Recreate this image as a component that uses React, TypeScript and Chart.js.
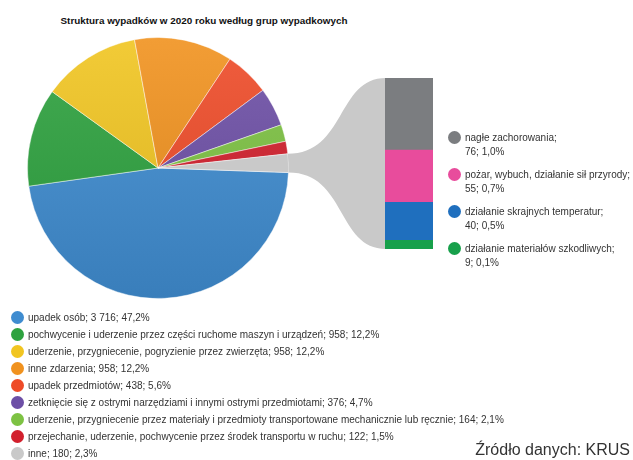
import React, { useEffect, useRef } from "react";
import { Chart, registerables } from "chart.js";
Chart.register(...registerables);

const title = "Struktura wypadków w 2020 roku według grup wypadkowych";
const source = "Źródło danych: KRUS";

const pieLabels = [
  "upadek osób",
  "pochwycenie i uderzenie przez części ruchome maszyn i urządzeń",
  "uderzenie, przygniecenie, pogryzienie przez zwierzęta",
  "inne zdarzenia",
  "upadek przedmiotów",
  "zetknięcie się z ostrymi narzędziami i innymi ostrymi przedmiotami",
  "uderzenie, przygniecenie przez materiały i przedmioty transportowane mechanicznie lub ręcznie",
  "przejechanie, uderzenie, pochwycenie przez środek transportu w ruchu",
  "inne",
];
const pieValues = [3716, 958, 958, 958, 438, 376, 164, 122, 180];
const pieValueText = ["3 716", "958", "958", "958", "438", "376", "164", "122", "180"];
const piePercents = ["47,2%", "12,2%", "12,2%", "12,2%", "5,6%", "4,7%", "2,1%", "1,5%", "2,3%"];
const pieColors = ["#3f8cd0", "#2ea23f", "#f1c521", "#f0921f", "#ee4b28", "#6d4fa6", "#7dc243", "#d2202d", "#c9c9c9"];

const barLabels = [
  "nagłe zachorowania",
  "pożar, wybuch, działanie sił przyrody",
  "działanie skrajnych temperatur",
  "działanie materiałów szkodliwych",
];
const barValues = [76, 55, 40, 9];
const barPercents = ["1,0%", "0,7%", "0,5%", "0,1%"];
const barColors = ["#7b7d80", "#e84c9c", "#1f6fbe", "#17a04b"];

const W = 633;
const H = 460;
const PIE_LEFT = 27;
const PIE_TOP = 37;
const PIE_SIZE = 262;
const connectorColor = "#c9c9c9";
const textFont = "'Liberation Sans', Arial, sans-serif";

function shade(hex: string, amt: number) {
  const n = parseInt(hex.slice(1), 16);
  const f = (c: number) => Math.max(0, Math.min(255, Math.round(amt > 0 ? c + (255 - c) * amt : c * (1 + amt))));
  const r = f((n >> 16) & 255);
  const g = f((n >> 8) & 255);
  const b = f(n & 255);
  return `rgb(${r},${g},${b})`;
}

export default function App() {
  const pieRef = useRef<HTMLCanvasElement | null>(null);
  const barRef = useRef<HTMLCanvasElement | null>(null);

  useEffect(() => {
    document.body.style.margin = "0";
    const pie = new Chart(pieRef.current!, {
      type: "pie",
      data: {
        labels: pieLabels,
        datasets: [
          {
            data: pieValues,
            backgroundColor: (c: any) => {
              const base = pieColors[c.dataIndex];
              const area = c.chart.chartArea;
              if (!area || c.dataIndex === pieColors.length - 1) return base;
              const g = c.chart.ctx.createLinearGradient(0, area.top, 0, area.bottom);
              g.addColorStop(0, shade(base, 0.1));
              g.addColorStop(1, shade(base, -0.1));
              return g;
            },
            borderColor: "rgba(255,255,255,0.45)",
            borderWidth: 1,
          },
        ],
      },
      options: {
        responsive: false,
        animation: false,
        rotation: 92,
        layout: { padding: 0 },
        plugins: { legend: { display: false }, tooltip: { enabled: false }, title: { display: false } },
        events: [],
      },
    });

    const connector = {
      id: "connector",
      beforeDatasetsDraw(chart: any) {
        const meta = pie.getDatasetMeta(0);
        const arc: any = meta.data[meta.data.length - 1];
        if (!arc) return;
        const cx = arc.x + PIE_LEFT;
        const cy = arc.y + PIE_TOP;
        const r = arc.outerRadius;
        const a1 = arc.startAngle;
        const a2 = arc.endAngle;
        const p1 = { x: cx + r * Math.cos(a1), y: cy + r * Math.sin(a1) };
        const p2 = { x: cx + r * Math.cos(a2), y: cy + r * Math.sin(a2) };
        const area = chart.chartArea;
        const L = area.left;
        const top = area.top;
        const bottom = area.bottom;
        const ctx = chart.ctx;
        ctx.save();
        ctx.fillStyle = connectorColor;
        ctx.beginPath();
        ctx.moveTo(p1.x, p1.y);
        let dx = L - p1.x;
        ctx.bezierCurveTo(p1.x + dx * 0.6, p1.y, L - dx * 0.5, top, L + 1, top);
        ctx.lineTo(L + 1, bottom);
        dx = L - p2.x;
        ctx.bezierCurveTo(L - dx * 0.5, bottom, p2.x + dx * 0.6, p2.y, p2.x, p2.y);
        ctx.arc(cx, cy, r, a2, a1, true);
        ctx.closePath();
        ctx.fill();
        ctx.restore();
      },
    };

    const order = barValues.map((_, i) => i).reverse();
    const bar = new Chart(barRef.current!, {
      type: "bar",
      data: {
        labels: [""],
        datasets: order.map((i) => ({
          label: barLabels[i],
          data: [barValues[i]],
          backgroundColor: barColors[i],
          borderWidth: 0,
          barPercentage: 1,
          categoryPercentage: 1,
        })),
      },
      options: {
        responsive: false,
        animation: false,
        layout: { padding: { left: 385, right: W - 433, top: 78, bottom: H - 249 } },
        scales: {
          x: { stacked: true, display: false },
          y: { stacked: true, display: false, min: 0, max: 180 },
        },
        plugins: { legend: { display: false }, tooltip: { enabled: false }, title: { display: false } },
        events: [],
      },
      plugins: [connector],
    });

    return () => {
      bar.destroy();
      pie.destroy();
    };
  }, []);

  return (
    <div style={{ position: "absolute", left: 0, top: 0, width: W, height: H, background: "#fff", overflow: "hidden", fontFamily: textFont }}>
      <div style={{ position: "absolute", left: 0, top: 15, width: 408, textAlign: "center", fontWeight: "bold", fontSize: 9.9, lineHeight: "12px", color: "#111" }}>
        {title}
      </div>
      <canvas ref={pieRef} width={PIE_SIZE} height={PIE_SIZE} style={{ position: "absolute", left: PIE_LEFT, top: PIE_TOP, width: PIE_SIZE, height: PIE_SIZE }} />
      <canvas ref={barRef} width={W} height={H} style={{ position: "absolute", left: 0, top: 0, width: W, height: H, pointerEvents: "none" }} />
      {pieLabels.map((lab, i) => (
        <div key={i} style={{ position: "absolute", left: 11, top: 317 + i * 17 - 7, height: 14, display: "flex", alignItems: "center", whiteSpace: "nowrap" }}>
          <span style={{ display: "inline-block", width: 13, height: 13, borderRadius: "50%", background: pieColors[i], marginRight: 4 }} />
          <span style={{ fontSize: 10, color: "#333" }}>{`${lab}; ${pieValueText[i]}; ${piePercents[i]}`}</span>
        </div>
      ))}
      {barLabels.map((lab, i) => (
        <div key={i} style={{ position: "absolute", left: 448, top: 138 + i * 37 - 7, whiteSpace: "nowrap" }}>
          <span style={{ position: "absolute", left: 0, top: 0, width: 13, height: 13, borderRadius: "50%", background: barColors[i] }} />
          <div style={{ position: "absolute", left: 17, top: 0, fontSize: 10, lineHeight: "14px", color: "#333", marginTop: -0.5 }}>
            {`${lab};`}
            <br />
            {`${barValues[i]}; ${barPercents[i]}`}
          </div>
        </div>
      ))}
      <div style={{ position: "absolute", right: 3, top: 440, lineHeight: "20px", fontSize: 16, color: "#333", whiteSpace: "nowrap" }}>
        {source}
      </div>
    </div>
  );
}
